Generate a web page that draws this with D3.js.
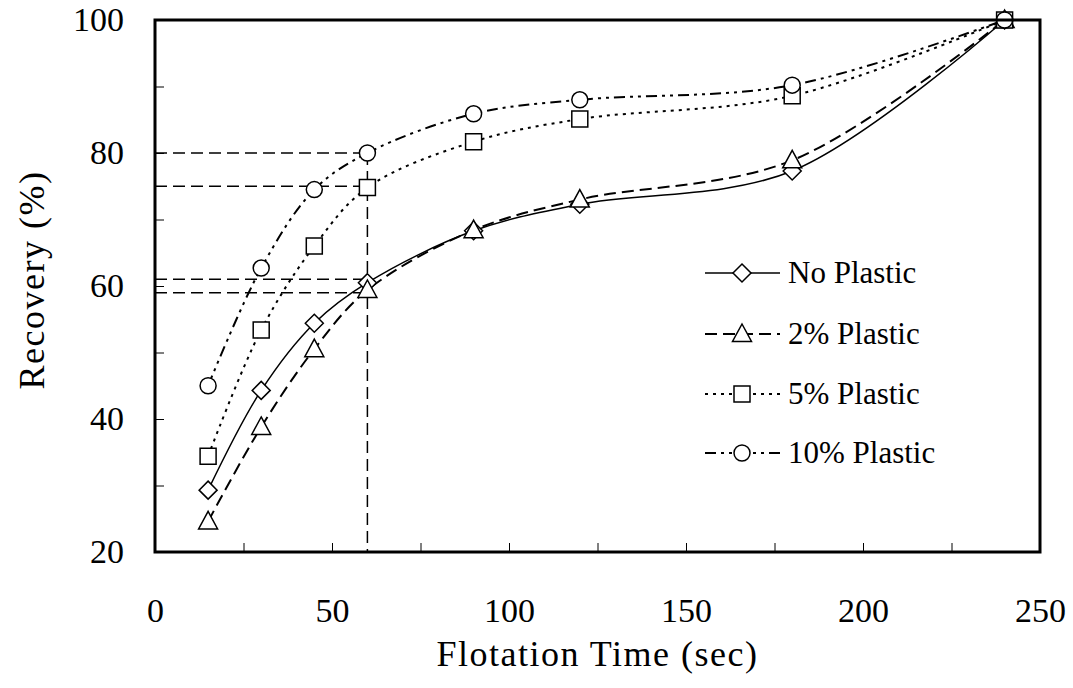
<!DOCTYPE html>
<html><head><meta charset="utf-8">
<script src="https://cdn.jsdelivr.net/npm/d3@7"></script>
<style>body{margin:0;background:#fff} svg text{font-family:"Liberation Serif",Tinos,"Times New Roman" !important;}</style></head><body>
<svg id="c" width="1073" height="688"></svg>
<script>
const times=[15,30,45,60,90,120,180,240];
const noPlastic=[29.3,44.3,54.4,60.5,68.3,72.3,77.3,100];
const plastic2=[24.6,38.8,50.5,59.4,68.4,73.0,78.9,100];
const plastic5=[34.4,53.4,66.0,74.8,81.7,85.1,88.6,100];
const plastic10=[45.0,62.7,74.5,80.0,85.9,88.0,90.2,100];
const seriesNames=["No Plastic","2% Plastic","5% Plastic","10% Plastic"];
const xTickLabels=[0,50,100,150,200,250];
const yTickLabels=[20,40,60,80,100];
const refX=60;
const refY=[80,75,61,59];

const font='"Liberation Serif", Tinos, "Times New Roman"';
const svg=d3.select("#c");
const L=155,R=1040,T=20,B=552;
const x=d3.scaleLinear().domain([0,250]).range([L,R]);
const y=d3.scaleLinear().domain([20,100]).range([B,T]);

const diamond={draw(c){const r=9;c.moveTo(0,-r);c.lineTo(r,0);c.lineTo(0,r);c.lineTo(-r,0);c.closePath();}};
const triangle={draw(c){c.moveTo(0,-10);c.lineTo(9.5,7.5);c.lineTo(-9.5,7.5);c.closePath();}};
const square={draw(c){const h=8;c.moveTo(-h,-h);c.lineTo(h,-h);c.lineTo(h,h);c.lineTo(-h,h);c.closePath();}};
const circle={draw(c){c.moveTo(8,0);c.arc(0,0,8,0,2*Math.PI);}};

const series=[
 {name:seriesNames[0],vals:noPlastic,dash:null,w:1.5,sym:diamond},
 {name:seriesNames[1],vals:plastic2,dash:"12,6",w:2,sym:triangle},
 {name:seriesNames[2],vals:plastic5,dash:"3,5",w:2,sym:square},
 {name:seriesNames[3],vals:plastic10,dash:"11,5,3,5,3,5",w:2,sym:circle}
];

const gx=svg.append("g").attr("transform",`translate(0,${B})`)
  .call(d3.axisBottom(x).tickValues(d3.range(0,251,25)).tickSize(-9).tickPadding(46)
  .tickFormat(d=>xTickLabels.includes(d)?d:""));
const gy=svg.append("g").attr("transform",`translate(${L},0)`)
  .call(d3.axisLeft(y).tickValues(d3.range(20,101,10)).tickSize(-9).tickPadding(31)
  .tickFormat(d=>yTickLabels.includes(d)?d:""));
[gx,gy].forEach(g=>{
  g.attr("font-family",null);
  g.select(".domain").remove();
  g.selectAll(".tick line").attr("stroke","#000").attr("stroke-width",1);
  g.selectAll(".tick text").attr("fill","#000").attr("font-size",34);
});

const ref=svg.append("g").attr("fill","none").attr("stroke","#000").attr("stroke-width",1.5).attr("stroke-dasharray","12,6");
refY.forEach(v=>ref.append("line").attr("x1",x(0)).attr("x2",x(refX)).attr("y1",y(v)).attr("y2",y(v)));
ref.append("line").attr("x1",x(refX)).attr("x2",x(refX)).attr("y1",y(d3.max(refY))).attr("y2",y(20));

const line=d3.line().x(d=>x(d[0])).y(d=>y(d[1])).curve(d3.curveCatmullRom.alpha(0.5));
series.forEach(s=>{
  const pts=times.map((t,i)=>[t,s.vals[i]]);
  svg.append("path").datum(pts).attr("d",line).attr("fill","none").attr("stroke","#000")
    .attr("stroke-width",s.w).attr("stroke-dasharray",s.dash);
});
series.forEach(s=>{
  const pts=times.map((t,i)=>[t,s.vals[i]]);
  svg.append("g").selectAll("path").data(pts).join("path")
    .attr("d",d3.symbol(s.sym)).attr("transform",d=>`translate(${x(d[0])},${y(d[1])})`)
    .attr("fill","#fff").attr("stroke","#000").attr("stroke-width",1.5);
});

svg.append("rect").attr("x",L).attr("y",T).attr("width",R-L).attr("height",B-T)
  .attr("fill","none").attr("stroke","#000").attr("stroke-width",3);

svg.append("text").attr("x",(L+R)/2).attr("y",666).attr("text-anchor","middle")
  .attr("font-size",36).style("letter-spacing","1.5px").text("Flotation Time (sec)");
svg.append("text").attr("transform",`translate(44,${(T+B)/2-6}) rotate(-90)`).attr("text-anchor","middle")
  .attr("font-size",36).style("letter-spacing","1.5px").text("Recovery (%)");

const rows=[273,334,394,453];
series.forEach((s,i)=>{
  const g=svg.append("g").attr("transform",`translate(0,${rows[i]})`);
  g.append("line").attr("x1",705).attr("x2",780).attr("y1",0).attr("y2",0)
    .attr("stroke","#000").attr("stroke-width",s.w).attr("stroke-dasharray",s.dash);
  g.append("path").attr("d",d3.symbol(s.sym)).attr("transform","translate(742,0)")
    .attr("fill","#fff").attr("stroke","#000").attr("stroke-width",1.5);
  g.append("text").attr("x",788).attr("y",10).attr("font-size",31).text(s.name);
});

svg.selectAll("text").each(function(){ this.style.setProperty("font-family",font,"important"); });
</script></body></html>
